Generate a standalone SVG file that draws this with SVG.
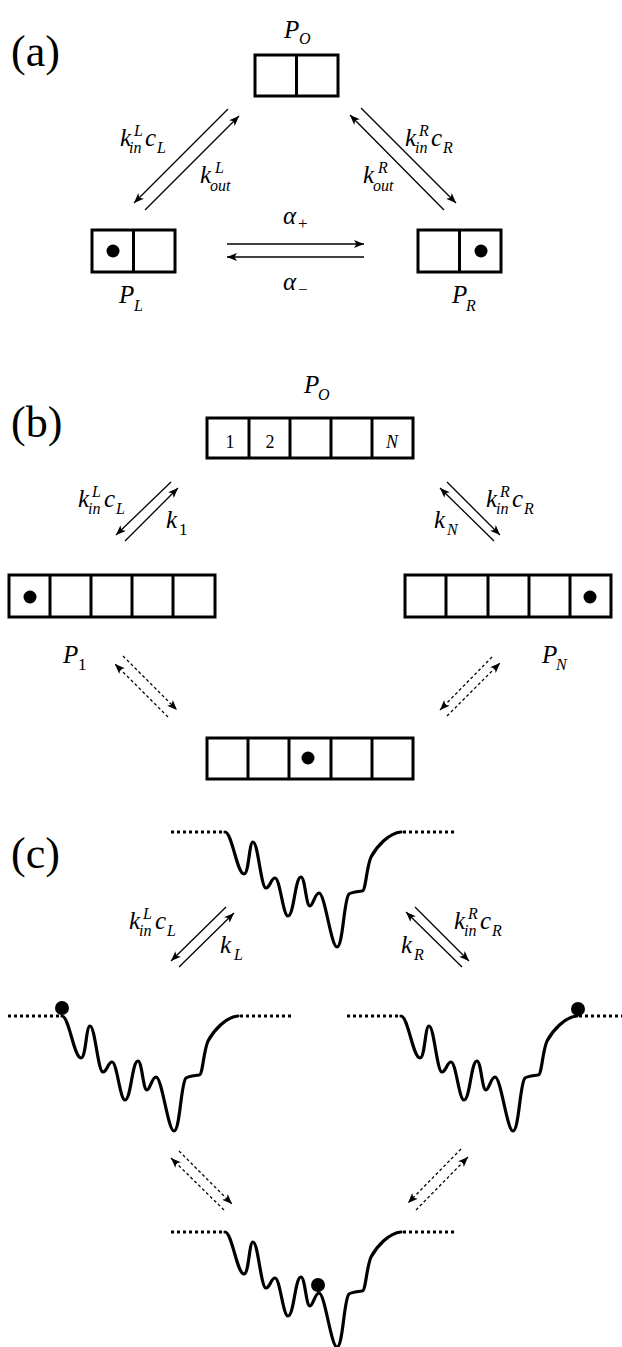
<svg xmlns="http://www.w3.org/2000/svg" xmlns:xlink="http://www.w3.org/1999/xlink" width="622" height="1347" viewBox="0 0 622 1347">
<style>
.bg{fill:#fff}
.box{fill:#fff;stroke:#000;stroke-width:3}
.div{stroke:#000;stroke-width:3}
.dot{fill:#000}
.arr{stroke:#000;stroke-width:1.3;fill:none;marker-end:url(#ah)}
.darr{stroke:#000;stroke-width:1.3;fill:none;stroke-dasharray:3 2.5;marker-end:url(#ah)}
.curve{fill:none;stroke:#000;stroke-width:3.2;stroke-linejoin:round;stroke-linecap:round}
.dots{stroke:#000;stroke-width:3;stroke-dasharray:3 3}
text{font-family:'Liberation Serif','Times New Roman',serif}
.pl{font-size:44px;font-style:normal}
.m{font-style:italic;font-size:25px}
.s{font-style:italic;font-size:16px}
.su{font-style:normal;font-size:17px}
.n{font-style:normal;font-size:18px}
.ni{font-style:italic;font-size:18px}
</style>
<defs>
<marker id="ah" viewBox="0 0 10 8" refX="10" refY="4" markerWidth="10" markerHeight="8" markerUnits="userSpaceOnUse" orient="auto">
<path d="M0,0 L10,4 L0,8 L2.5,4 z" fill="#000"/>
</marker>
<g id="well">
<line class="dots" x1="-54" y1="0" x2="-1" y2="0"/>
<path class="curve" d="M0,0 C7,0 12,42 19,42 C24,42 24,10 28,10 C33,10 36,56 41,56 C45,56 46,46 50,46 C55,46 58,84 63,84 C69,84 70,45 76,45 C80,45 81,74 85,74 C88,74 90,61 94,61 C100,61 106,115 112,115 C118,115 119,66 124,62 C127,60 130,60 137,59 C141,59 141,37 146,25 C152,14 164,1 176,0"/>
<line class="dots" x1="178" y1="0" x2="230" y2="0"/>
</g>
</defs>
<rect class="bg" x="0" y="0" width="622" height="1347"/>

<g font-family="'Liberation Serif','Times New Roman',serif">
<g id="label-a"><text class="pl" x="11" y="66">(a)</text></g>
<g id="label-b"><text class="pl" x="11" y="437">(b)</text></g>
<g id="label-c"><text class="pl" x="11" y="868">(c)</text></g>

<g id="a-PO">
<rect class="box" x="255" y="55" width="83" height="41"/>
<line class="div" x1="296.5" y1="55" x2="296.5" y2="96"/>
<text class="m" x="284" y="38">P</text><text class="s" x="299" y="44">O</text>
</g>
<g id="a-PL">
<rect class="box" x="92" y="230" width="83" height="42"/>
<line class="div" x1="133.5" y1="230" x2="133.5" y2="272"/>
<circle class="dot" cx="113" cy="251" r="6.5"/>
<text class="m" x="119" y="303">P</text><text class="s" x="134" y="311">L</text>
</g>
<g id="a-PR">
<rect class="box" x="418" y="230" width="83" height="42"/>
<line class="div" x1="459.5" y1="230" x2="459.5" y2="272"/>
<circle class="dot" cx="481" cy="251" r="6.5"/>
<text class="m" x="452" y="303">P</text><text class="s" x="466" y="311">R</text>
</g>

<g id="b-PO">
<rect class="box" x="207" y="418" width="206" height="40"/>
<line class="div" x1="249" y1="418" x2="249" y2="458"/>
<line class="div" x1="290" y1="418" x2="290" y2="458"/>
<line class="div" x1="331" y1="418" x2="331" y2="458"/>
<line class="div" x1="372" y1="418" x2="372" y2="458"/>
<text class="n" x="230" y="448" text-anchor="middle">1</text>
<text class="n" x="270" y="448" text-anchor="middle">2</text>
<text class="ni" x="392" y="448" text-anchor="middle">N</text>
<text class="m" x="304" y="393">P</text><text class="s" x="318" y="400">O</text>
</g>
<g id="b-P1">
<rect class="box" x="9" y="575" width="206" height="42"/>
<line class="div" x1="50" y1="575" x2="50" y2="617"/>
<line class="div" x1="91" y1="575" x2="91" y2="617"/>
<line class="div" x1="132" y1="575" x2="132" y2="617"/>
<line class="div" x1="173" y1="575" x2="173" y2="617"/>
<circle class="dot" cx="30" cy="597" r="6.5"/>
<text class="m" x="63" y="663">P</text><text class="su" x="78" y="670">1</text>
</g>
<g id="b-PN">
<rect class="box" x="405" y="575" width="206" height="42"/>
<line class="div" x1="446" y1="575" x2="446" y2="617"/>
<line class="div" x1="488" y1="575" x2="488" y2="617"/>
<line class="div" x1="529" y1="575" x2="529" y2="617"/>
<line class="div" x1="570" y1="575" x2="570" y2="617"/>
<circle class="dot" cx="590" cy="597" r="6.5"/>
<text class="m" x="542" y="663">P</text><text class="s" x="556" y="670">N</text>
</g>
<g id="b-Pmid">
<rect class="box" x="207" y="738" width="206" height="41"/>
<line class="div" x1="248" y1="738" x2="248" y2="779"/>
<line class="div" x1="289" y1="738" x2="289" y2="779"/>
<line class="div" x1="331" y1="738" x2="331" y2="779"/>
<line class="div" x1="372" y1="738" x2="372" y2="779"/>
<circle class="dot" cx="308" cy="758" r="6.5"/>
</g>

<g id="c-top"><use href="#well" xlink:href="#well" transform="translate(225,832)"/></g>
<g id="c-left">
<use href="#well" xlink:href="#well" transform="translate(62,1016)"/>
<circle class="dot" cx="62" cy="1008" r="7"/>
</g>
<g id="c-right">
<use href="#well" xlink:href="#well" transform="translate(401,1016)"/>
<circle class="dot" cx="578" cy="1009" r="7"/>
</g>
<g id="c-bottom">
<use href="#well" xlink:href="#well" transform="translate(225,1232)"/>
<circle class="dot" cx="318" cy="1285" r="7"/>
</g>

<g id="connectors">
<line class="arr" x1="228" y1="109" x2="134" y2="203"/>
<line class="arr" x1="145" y1="210" x2="239" y2="116"/>
<line class="arr" x1="444" y1="210" x2="350" y2="115"/>
<line class="arr" x1="361" y1="108" x2="456" y2="203"/>
<line class="arr" x1="227" y1="244" x2="364" y2="244"/>
<line class="arr" x1="364" y1="257" x2="227" y2="257"/>
<line class="arr" x1="171" y1="482" x2="116" y2="535"/>
<line class="arr" x1="125" y1="541" x2="178" y2="488"/>
<line class="arr" x1="494" y1="541" x2="440" y2="488"/>
<line class="arr" x1="447" y1="482" x2="500" y2="535"/>
<line class="darr" x1="123" y1="656" x2="177" y2="710"/>
<line class="darr" x1="168" y1="717" x2="115" y2="664"/>
<line class="darr" x1="492" y1="657" x2="440" y2="710"/>
<line class="darr" x1="447" y1="716" x2="500" y2="663"/>
<line class="arr" x1="226" y1="907" x2="171" y2="961"/>
<line class="arr" x1="179" y1="967" x2="234" y2="913"/>
<line class="arr" x1="462" y1="967" x2="406" y2="912"/>
<line class="arr" x1="415" y1="907" x2="469" y2="961"/>
<line class="darr" x1="179" y1="1151" x2="232" y2="1204"/>
<line class="darr" x1="224" y1="1210" x2="171" y2="1158"/>
<line class="darr" x1="461" y1="1149" x2="408" y2="1203"/>
<line class="darr" x1="416" y1="1210" x2="468" y2="1157"/>
</g>

<g id="rate-labels">
<text class="m" x="120" y="146">k</text><text class="s" x="134" y="136">L</text><text class="s" x="129" y="153">in</text><text class="m" x="145" y="146">c</text><text class="s" x="157" y="153">L</text>
<text class="m" x="200" y="183">k</text><text class="s" x="215" y="173">L</text><text class="s" x="210" y="191">out</text>
<text class="m" x="405" y="146">k</text><text class="s" x="419" y="136">R</text><text class="s" x="415" y="153">in</text><text class="m" x="431" y="146">c</text><text class="s" x="443" y="153">R</text>
<text class="m" x="363" y="183">k</text><text class="s" x="378" y="173">R</text><text class="s" x="373" y="191">out</text>
<text class="m" x="283" y="224">α</text><text class="su" x="298" y="229">+</text>
<text class="m" x="283" y="290">α</text><text class="su" x="298" y="295">−</text>
<text class="m" x="78" y="507">k</text><text class="s" x="92" y="497">L</text><text class="s" x="88" y="514">in</text><text class="m" x="104" y="507">c</text><text class="s" x="116" y="514">L</text>
<text class="m" x="166" y="528">k</text><text class="su" x="179" y="535">1</text>
<text class="m" x="486" y="507">k</text><text class="s" x="500" y="497">R</text><text class="s" x="496" y="514">in</text><text class="m" x="512" y="507">c</text><text class="s" x="524" y="514">R</text>
<text class="m" x="434" y="528">k</text><text class="s" x="447" y="535">N</text>
<text class="m" x="129" y="929">k</text><text class="s" x="143" y="919">L</text><text class="s" x="139" y="936">in</text><text class="m" x="155" y="929">c</text><text class="s" x="167" y="936">L</text>
<text class="m" x="220" y="953">k</text><text class="s" x="234" y="960">L</text>
<text class="m" x="454" y="929">k</text><text class="s" x="468" y="919">R</text><text class="s" x="464" y="936">in</text><text class="m" x="480" y="929">c</text><text class="s" x="492" y="936">R</text>
<text class="m" x="401" y="953">k</text><text class="s" x="414" y="960">R</text>
</g>
</g>
</svg>
